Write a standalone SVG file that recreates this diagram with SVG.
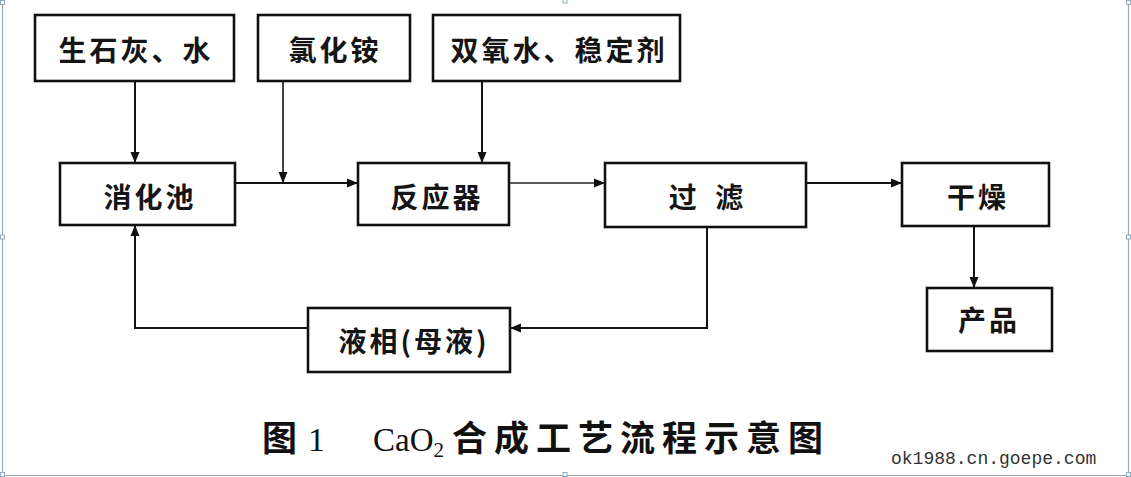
<svg xmlns="http://www.w3.org/2000/svg" width="1131" height="477" viewBox="0 0 1131 477">
<style>
.box{fill:#fff;stroke:#111;stroke-width:2.6}
.lbl{font-family:"Noto Sans CJK SC","Noto Sans",sans-serif;font-size:28px;font-weight:bold;fill:#151515;text-anchor:middle;letter-spacing:3px}
.ln{fill:none;stroke:#111;stroke-width:2}
.ln2{fill:none;stroke:#222;stroke-width:1.7}
.cap{font-family:"Noto Sans CJK SC","Noto Sans",sans-serif;font-size:35px;font-weight:bold;fill:#111}
.ser{font-family:"Liberation Serif",serif;fill:#111}
.frame{fill:none;stroke:#8fa9bf;stroke-width:1.2}
.hdl{fill:#fff;stroke:#8fa9bf;stroke-width:1}
</style>
<defs>
<marker id="ah" markerUnits="userSpaceOnUse" markerWidth="12" markerHeight="10" refX="11" refY="5" orient="auto">
<path d="M0,0.5 L11,5 L0,9.5 z" fill="#111"/>
</marker>
</defs>
<rect width="1131" height="477" fill="#fff"/>
<g id="frame">
<path class="frame" d="M2.5,0 V475.5 H1128.5 V0"/>
<rect class="hdl" x="0.5" y="0.5" width="4" height="4"/>
<rect class="hdl" x="563" y="-1" width="4" height="4"/>
<rect class="hdl" x="1126.5" y="0.5" width="4" height="4"/>
<rect class="hdl" x="0.5" y="235" width="4" height="4"/>
<rect class="hdl" x="1126.5" y="235" width="4" height="4"/>
<rect class="hdl" x="0.5" y="472.5" width="4" height="4"/>
<rect class="hdl" x="563" y="472.5" width="4" height="4"/>
<rect class="hdl" x="1126.5" y="472.5" width="4" height="4"/>
</g>
<g id="connectors">
<path class="ln" d="M135,81 V163" marker-end="url(#ah)"/>
<path class="ln2" d="M283,82 V183" marker-end="url(#ah)"/>
<path class="ln" d="M482,82 V163" marker-end="url(#ah)"/>
<path class="ln" d="M235,183 H358" marker-end="url(#ah)"/>
<path class="ln2" d="M509,183 H605" marker-end="url(#ah)"/>
<path class="ln" d="M806,183 H902" marker-end="url(#ah)"/>
<path class="ln" d="M974,226 V288" marker-end="url(#ah)"/>
<path class="ln" d="M707,227 V328 H510" marker-end="url(#ah)"/>
<path class="ln" d="M308,328 H135 V225" marker-end="url(#ah)"/>
</g>
<g id="n1"><rect class="box" x="35" y="15" width="199" height="66"/><text class="lbl" x="136" y="60.5">生石灰、水</text></g>
<g id="n2"><rect class="box" x="258" y="15" width="152" height="66"/><text class="lbl" x="335" y="60.5">氯化铵</text></g>
<g id="n3"><rect class="box" x="433" y="15" width="247" height="66"/><text class="lbl" x="559" y="60.5">双氧水、稳定剂</text></g>
<g id="n4"><rect class="box" x="60" y="163" width="175" height="62"/><text class="lbl" x="150" y="207.5">消化池</text></g>
<g id="n5"><rect class="box" x="358" y="163" width="151" height="62"/><text class="lbl" x="437" y="207.5">反应器</text></g>
<g id="n6"><rect class="box" x="605" y="163" width="201" height="64"/><text class="lbl" x="709" y="207.5" style="letter-spacing:6px">过 滤</text></g>
<g id="n7"><rect class="box" x="902" y="163" width="147" height="63"/><text class="lbl" x="978" y="207.5">干燥</text></g>
<g id="n8"><rect class="box" x="927" y="288" width="125" height="63"/><text class="lbl" x="989" y="330.5">产品</text></g>
<g id="n9"><rect class="box" x="308" y="308" width="202" height="64"/><text class="lbl" x="414" y="351.5">液相(母液)</text></g>
<g id="caption">
<text class="cap" x="262" y="451">图</text>
<text class="ser" x="308" y="451" font-size="34">1</text>
<text class="ser" x="373" y="451" font-size="33">CaO<tspan font-size="21" dy="6">2</tspan></text>
<text class="cap" x="452" y="451" style="letter-spacing:7px">合成工艺流程示意图</text>
</g>
<text x="891" y="464" font-family="'Liberation Mono',monospace" font-size="18" fill="#333">ok1988.cn.goepe.com</text>
</svg>
